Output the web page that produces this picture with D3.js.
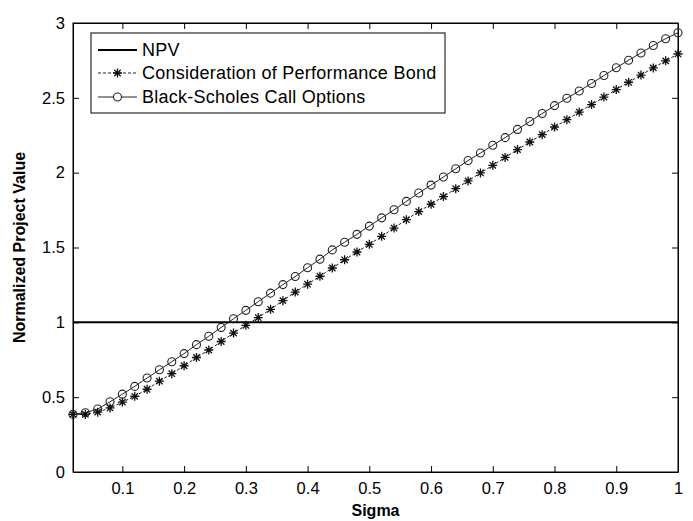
<!DOCTYPE html>
<html>
<head>
<meta charset="utf-8">
<script src="https://cdn.jsdelivr.net/npm/d3@7"></script>
<style>
  body { margin: 0; background: #fff; }
  text { font-family: "Liberation Sans", Arial, sans-serif; }
</style>
</head>
<body>
<div id="chart"></div>
<script>
// Sigma values 0.02 ... 1.00 (step 0.02)
const sigma = [0.02,0.04,0.06,0.08,0.10,0.12,0.14,0.16,0.18,0.20,
  0.22,0.24,0.26,0.28,0.30,0.32,0.34,0.36,0.38,0.40,
  0.42,0.44,0.46,0.48,0.50,0.52,0.54,0.56,0.58,0.60,
  0.62,0.64,0.66,0.68,0.70,0.72,0.74,0.76,0.78,0.80,
  0.82,0.84,0.86,0.88,0.90,0.92,0.94,0.96,0.98,1.00]

const npv = sigma.map(() => 1)

const bond = [0.385,0.385,0.400,0.428,0.467,0.506,0.553,0.607,0.657,0.710,
  0.765,0.815,0.872,0.928,0.980,1.032,1.087,1.145,1.202,1.255,
  1.308,1.363,1.418,1.470,1.521,1.575,1.630,1.686,1.740,1.789,
  1.840,1.893,1.945,1.998,2.049,2.102,2.154,2.205,2.254,2.305,
  2.354,2.405,2.455,2.505,2.555,2.604,2.652,2.700,2.747,2.793]

const blackScholes = [0.385,0.396,0.421,0.469,0.520,0.572,0.628,0.683,0.737,0.791,
  0.851,0.907,0.966,1.024,1.080,1.138,1.195,1.252,1.306,1.365,
  1.422,1.484,1.535,1.588,1.643,1.698,1.752,1.808,1.864,1.917,
  1.971,2.026,2.081,2.131,2.183,2.234,2.289,2.342,2.395,2.448,
  2.497,2.546,2.596,2.649,2.701,2.751,2.800,2.850,2.895,2.935]

const xTicks = [0.1,0.2,0.3,0.4,0.5,0.6,0.7,0.8,0.9,1]
const yTicks = [0,0.5,1,1.5,2,2.5,3]
const legendNames = ["NPV", "Consideration of Performance Bond", "Black-Scholes Call Options"]

// Dimensions
const W = 693, H = 521
const margin = {top: 23, right: 15, bottom: 49, left: 73}
const width = W - margin.left - margin.right
const height = H - margin.top - margin.bottom

const svg = d3.select("#chart")
  .append("svg")
  .attr("width", W)
  .attr("height", H)

const g = svg.append("g")
  .attr("transform", `translate(${margin.left},${margin.top})`)

// Scales
const x = d3.scaleLinear().domain([0.02, 1]).range([0, width])
const y = d3.scaleLinear().domain([0, 3]).range([height, 0])

// ----------------- //
// Axes (matlab style box with inward ticks)
// ----------------- //
const tickLen = 6
const fmt = d => String(d)

g.append("g")
  .attr("transform", `translate(0,${height})`)
  .call(d3.axisBottom(x).tickValues(xTicks).tickFormat(fmt).tickSizeInner(-tickLen).tickSizeOuter(0).tickPadding(10))
g.append("g")
  .call(d3.axisTop(x).tickValues(xTicks).tickFormat("").tickSizeInner(-tickLen).tickSizeOuter(0))
g.append("g")
  .call(d3.axisLeft(y).tickValues(yTicks).tickFormat(fmt).tickSizeInner(-tickLen).tickSizeOuter(0).tickPadding(8))
g.append("g")
  .attr("transform", `translate(${width},0)`)
  .call(d3.axisRight(y).tickValues(yTicks).tickFormat("").tickSizeInner(-tickLen).tickSizeOuter(0))

g.selectAll(".domain").attr("stroke", "#000")
g.selectAll(".tick line").attr("stroke", "#000")
g.selectAll(".tick text")
  .attr("font-family", "Liberation Sans, Arial, sans-serif")
  .attr("font-size", 16.5)
  .attr("fill", "#000")

// Frame
g.append("rect")
  .attr("width", width).attr("height", height)
  .attr("fill", "none").attr("stroke", "#000").attr("stroke-width", 1)

// Axis titles
svg.append("text")
  .attr("x", margin.left + width / 2)
  .attr("y", 516)
  .attr("text-anchor", "middle")
  .attr("font-size", 16)
  .attr("font-weight", "bold")
  .text("Sigma")

svg.append("text")
  .attr("transform", `translate(25,${margin.top + height / 2}) rotate(-90)`)
  .attr("text-anchor", "middle")
  .attr("font-size", 16)
  .attr("font-weight", "bold")
  .text("Normalized Project Value")

// ----------------- //
// Lines
// ----------------- //
const line = d3.line()
  .x((d, i) => x(sigma[i]))
  .y(d => y(d))

const plot = g.append("g")

plot.append("path")
  .datum(npv)
  .attr("d", line)
  .attr("fill", "none").attr("stroke", "#000").attr("stroke-width", 2)

plot.append("path")
  .datum(bond)
  .attr("d", line)
  .attr("fill", "none").attr("stroke", "#222").attr("stroke-width", 1)
  .attr("stroke-dasharray", "3,2")

plot.append("path")
  .datum(blackScholes)
  .attr("d", line)
  .attr("fill", "none").attr("stroke", "#222").attr("stroke-width", 1)

// Star marker (matlab '*')
const starPath = (r) => {
  const d = r * Math.SQRT1_2
  return `M${-r},0L${r},0M0,${-r}L0,${r}M${-d},${-d}L${d},${d}M${-d},${d}L${d},${-d}`
}

plot.selectAll(".star")
  .data(bond)
  .join("path")
  .attr("class", "star")
  .attr("transform", (d, i) => `translate(${x(sigma[i])},${y(d)})`)
  .attr("d", starPath(4.5))
  .attr("stroke", "#111").attr("stroke-width", 1.3).attr("fill", "none")

plot.selectAll(".circ")
  .data(blackScholes)
  .join("circle")
  .attr("class", "circ")
  .attr("cx", (d, i) => x(sigma[i]))
  .attr("cy", d => y(d))
  .attr("r", 4)
  .attr("fill", "none").attr("stroke", "#222").attr("stroke-width", 1.1)

// ----------------- //
// Legend
// ----------------- //
const legend = svg.append("g").attr("transform", "translate(91,33)")
legend.append("rect")
  .attr("width", 354).attr("height", 80)
  .attr("fill", "#fff").attr("stroke", "#000").attr("stroke-width", 1)

const rowY = [17, 40, 64]
legendNames.forEach((name, i) => {
  const row = legend.append("g").attr("transform", `translate(0,${rowY[i]})`)
  const ln = row.append("line")
    .attr("x1", 7).attr("x2", 46).attr("y1", 0).attr("y2", 0)
    .attr("stroke", i === 0 ? "#000" : "#222")
    .attr("stroke-width", i === 0 ? 2 : 1)
  if (i === 1) {
    ln.attr("stroke-dasharray", "3,2")
    row.append("path").attr("transform", "translate(26.5,0)").attr("d", starPath(4.5))
      .attr("stroke", "#111").attr("stroke-width", 1.3).attr("fill", "none")
  }
  if (i === 2) {
    row.append("circle").attr("cx", 26.5).attr("cy", 0).attr("r", 4)
      .attr("fill", "#fff").attr("stroke", "#222").attr("stroke-width", 1.1)
  }
  row.append("text")
    .attr("x", 51)
    .attr("y", 0)
    .attr("dy", "0.35em")
    .attr("font-size", 18)
    .attr("letter-spacing", 0.25)
    .text(name)
})
</script>
</body>
</html>
